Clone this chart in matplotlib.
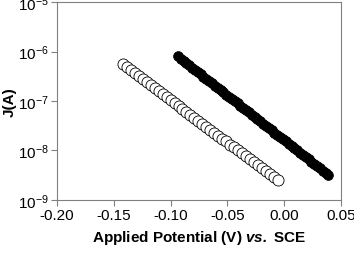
import matplotlib
matplotlib.use("Agg")
import matplotlib.pyplot as plt
from matplotlib.ticker import FixedLocator, FixedFormatter

plt.rcParams['font.family'] = ['Liberation Sans', 'DejaVu Sans']
plt.rcParams['axes.unicode_minus'] = False
plt.rcParams['mathtext.fontset'] = 'custom'
plt.rcParams['mathtext.rm'] = 'Liberation Sans'
plt.rcParams['mathtext.it'] = 'Liberation Sans:italic'
plt.rcParams['mathtext.bf'] = 'Liberation Sans:bold'
plt.rcParams['mathtext.bfit'] = 'Liberation Sans:bold:italic'

# open circles
open_v = [-0.142 + 0.0035 * i for i in range(40)]
open_j = [5.50e-7, 4.79e-7, 4.17e-7, 3.63e-7, 3.17e-7, 2.76e-7, 2.40e-7, 2.09e-7,
          1.82e-7, 1.59e-7, 1.38e-7, 1.20e-7, 1.05e-7, 9.14e-8, 7.96e-8, 6.93e-8,
          6.04e-8, 5.26e-8, 4.58e-8, 3.99e-8, 3.48e-8, 3.03e-8, 2.64e-8, 2.30e-8,
          2.00e-8, 1.74e-8, 1.52e-8, 1.32e-8, 1.15e-8, 1.00e-8, 8.73e-9, 7.60e-9,
          6.62e-9, 5.77e-9, 5.02e-9, 4.37e-9, 3.81e-9, 3.32e-9, 2.89e-9, 2.52e-9]

# filled circles
fill_v = [-0.0935 + 0.0025 * i for i in range(54)]
fill_j = [7.94e-7, 7.16e-7, 6.45e-7, 5.81e-7, 5.24e-7, 4.72e-7, 4.25e-7, 3.83e-7,
          3.45e-7, 3.11e-7, 2.80e-7, 2.53e-7, 2.28e-7, 2.05e-7, 1.85e-7, 1.67e-7,
          1.50e-7, 1.35e-7, 1.22e-7, 1.10e-7, 9.90e-8, 8.92e-8, 8.04e-8, 7.24e-8,
          6.53e-8, 5.88e-8, 5.30e-8, 4.78e-8, 4.30e-8, 3.88e-8, 3.49e-8, 3.15e-8,
          2.84e-8, 2.56e-8, 2.30e-8, 2.07e-8, 1.87e-8, 1.69e-8, 1.52e-8, 1.37e-8,
          1.23e-8, 1.11e-8, 1.00e-8, 9.03e-9, 8.14e-9, 7.33e-9, 6.61e-9, 5.95e-9,
          5.37e-9, 4.83e-9, 4.36e-9, 3.93e-9, 3.54e-9, 3.19e-9]

x_ticks = [-0.20, -0.15, -0.10, -0.05, 0.00, 0.05]
y_ticks = [1e-9, 1e-8, 1e-7, 1e-6, 1e-5]
y_labels = [r'10$^{-9}$', r'10$^{-8}$', r'10$^{-7}$', r'10$^{-6}$', r'10$^{-5}$']

fig = plt.figure(figsize=(3.54, 2.55), dpi=100)
ax = fig.add_axes([0.161, 0.212, 0.802, 0.776])

ax.plot(fill_v, fill_j, 'o', color='black', markersize=7, markeredgewidth=0.6)
ax.plot(open_v, open_j, 'o', mfc='white', mec='black', markersize=8,
        markeredgewidth=0.6)

ax.set_yscale('log')
ax.set_xlim(-0.20, 0.05)
ax.set_ylim(1e-9, 1e-5)
ax.xaxis.set_major_locator(FixedLocator(x_ticks))
ax.set_xticklabels(['%.2f' % t for t in x_ticks])
ax.yaxis.set_major_locator(FixedLocator(y_ticks))
ax.yaxis.set_major_formatter(FixedFormatter(y_labels))
ax.yaxis.set_minor_locator(FixedLocator([]))

for s in ax.spines.values():
    s.set_color('#808080')
    s.set_linewidth(0.8)
ax.tick_params(direction='out', length=4, width=0.8, color='#808080',
               labelsize=11, pad=2)

ax.set_xlabel(r'Applied Potential (V) $\mathbfit{vs.}$ SCE', fontsize=11,
              fontweight='bold', labelpad=4)
ax.set_ylabel('J(A)', fontsize=11, fontweight='bold', labelpad=1)

fig.savefig('out.png', dpi=100)
